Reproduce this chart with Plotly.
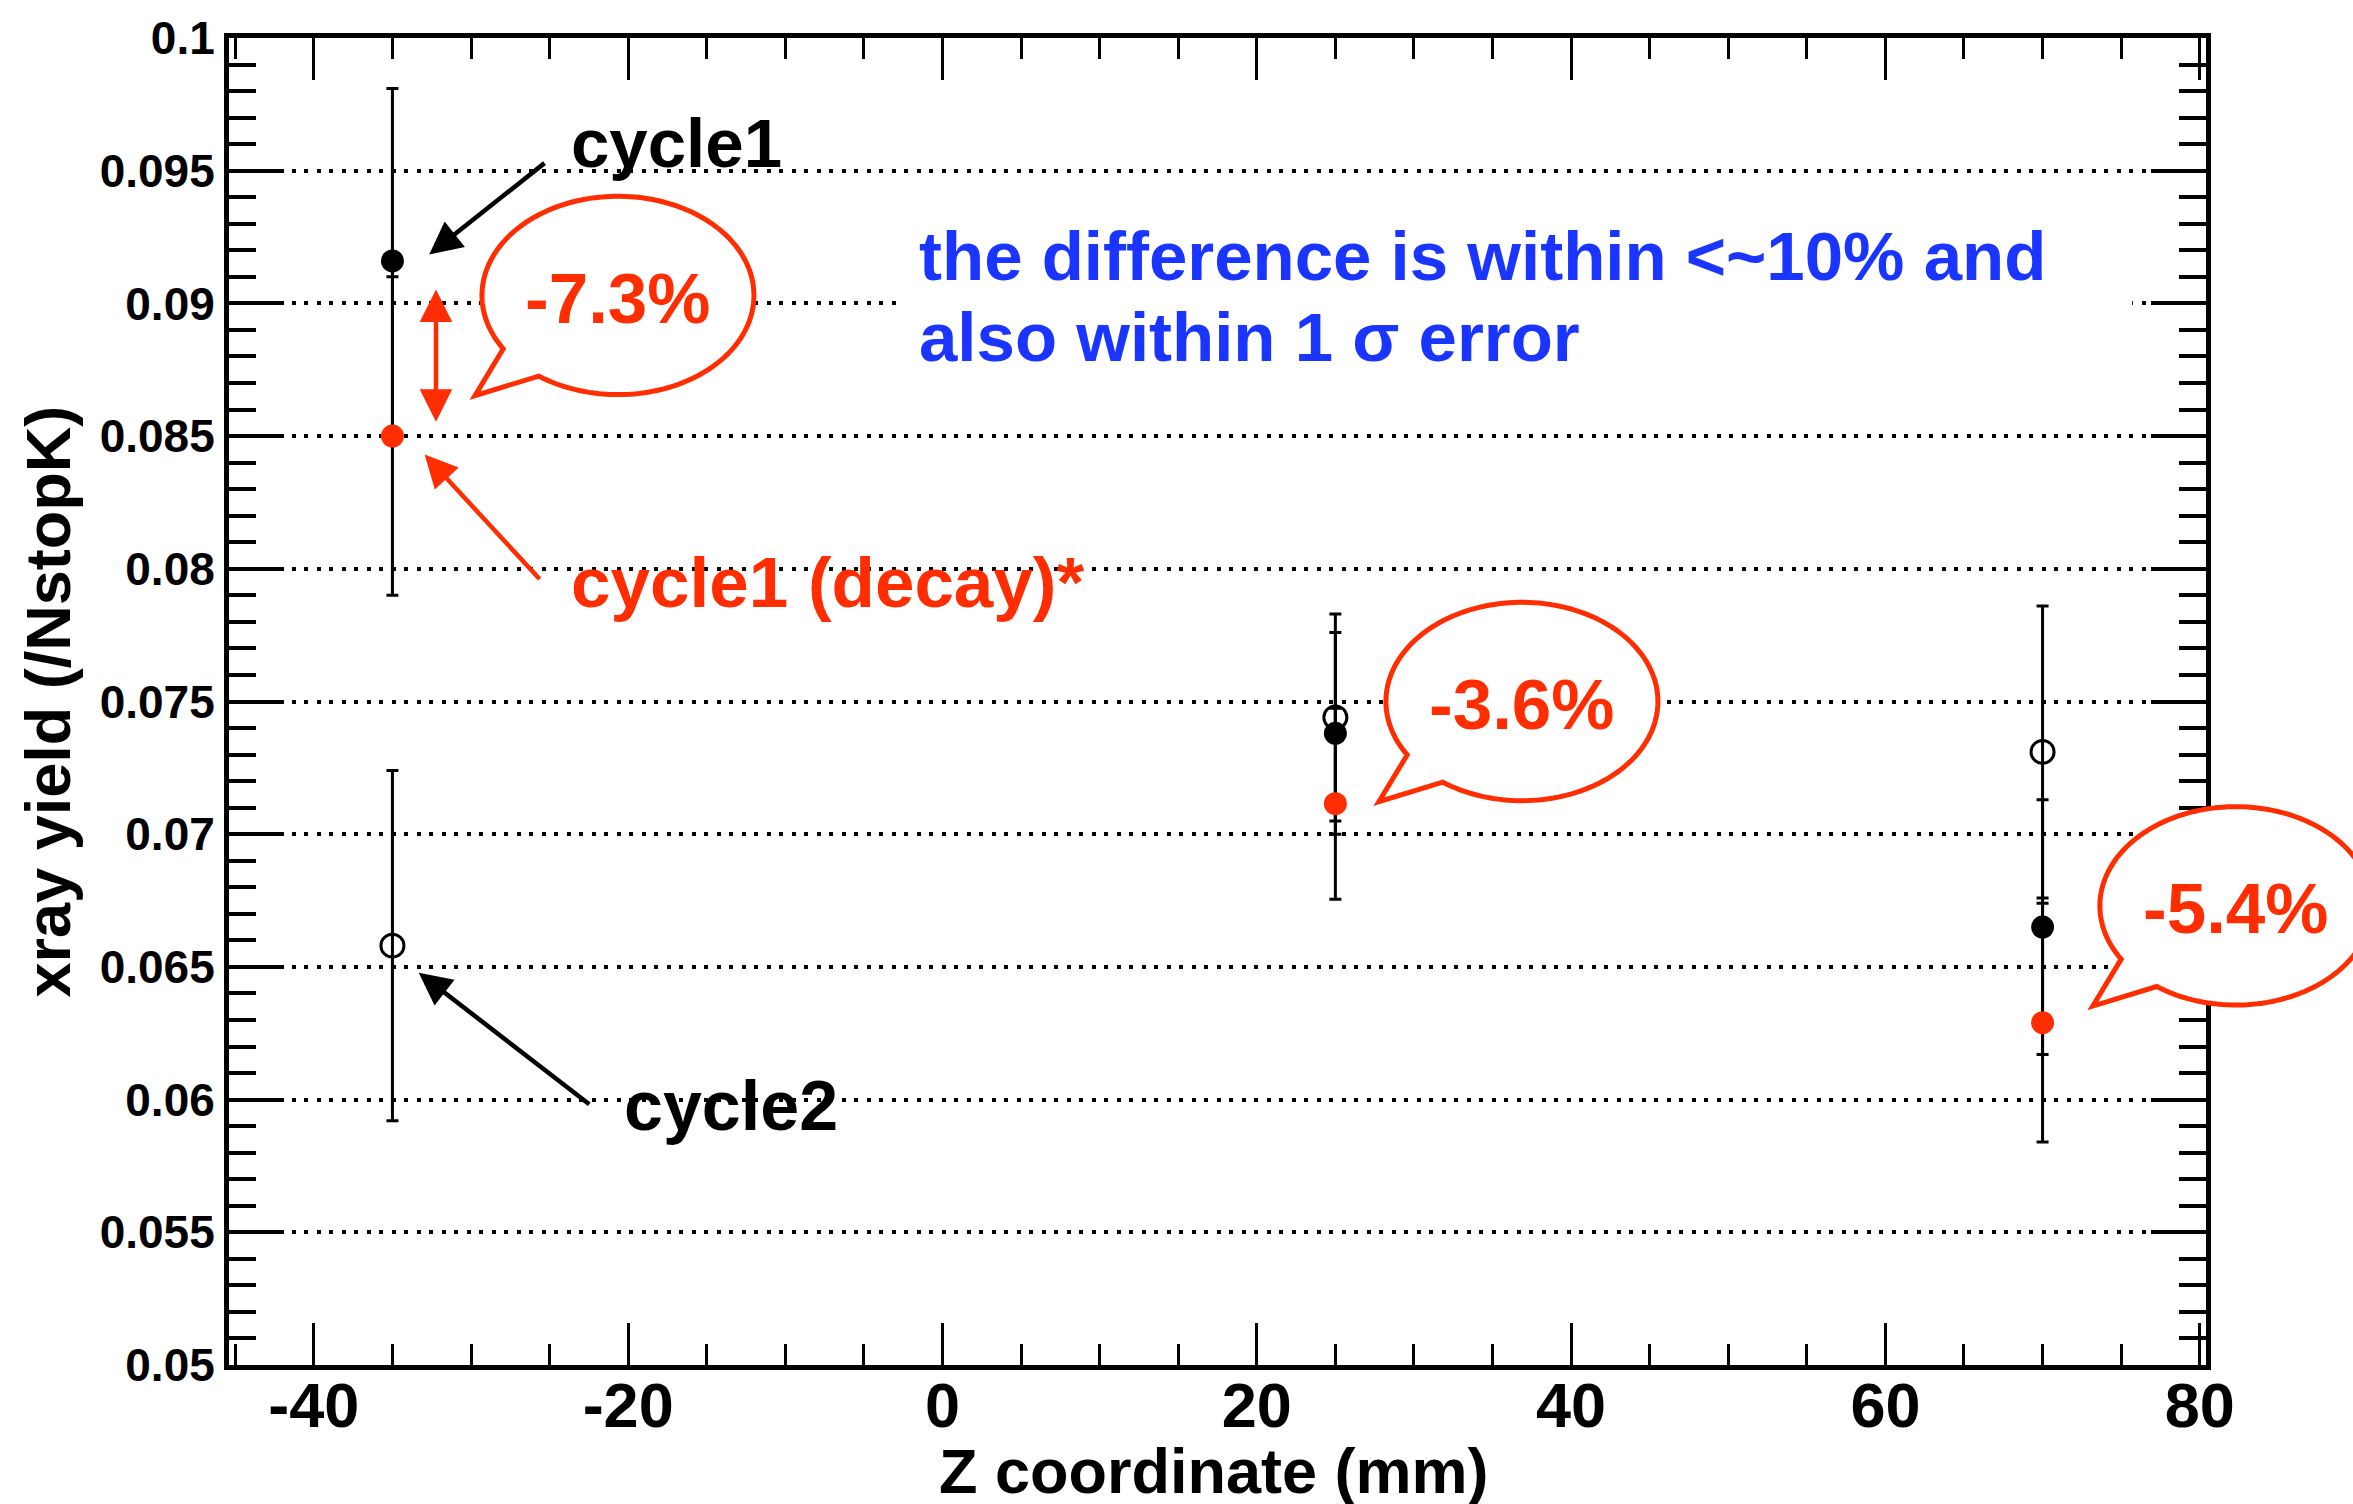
import numpy as np
import plotly.graph_objects as go

# ---------------- data ----------------
z_pos = [-35, 25, 70]
cycle1 = [0.0916, 0.0738, 0.0665]
cycle1_err = [0.0065, 0.0038, 0.0048]
cycle1_decay = [0.0850, 0.07115, 0.0629]
cycle1_decay_err = [0.0060, 0.0036, 0.0045]
cycle2 = [0.0658, 0.0744, 0.0731]
cycle2_err = [0.0066, 0.0039, 0.0055]

diff_labels = ["-7.3%", "-3.6%", "-5.4%"]
bubble_x = [-20.65, 36.87, 82.3]
bubble_y = [0.0903, 0.0750, 0.0673]

x_tickvals = [-40, -20, 0, 20, 40, 60, 80]
x_ticktext = ["-40", "-20", "0", "20", "40", "60", "80"]
y_tickvals = [0.05, 0.055, 0.06, 0.065, 0.07, 0.075, 0.08, 0.085, 0.09, 0.095, 0.1]
y_ticktext = ["0.05", "0.055", "0.06", "0.065", "0.07", "0.075", "0.08", "0.085", "0.09", "0.095", "0.1"]

# ---------------- layout constants ----------------
W, H = 2353, 1504
ML, MR, MT, MB = 229, 147, 27, 139
X_RANGE = [-45.4, 80.4]
Y_RANGE = [0.05, 0.1]
PW, PH = W - ML - MR, H - MT - MB

RED = "#ff2d00"
BLUE = "#1a35ff"
FONT = "Liberation Sans, Arial, Helvetica, sans-serif"


def xpx(x):
    return ML + (x - X_RANGE[0]) / (X_RANGE[1] - X_RANGE[0]) * PW


def ypx(y):
    return MT + (Y_RANGE[1] - y) / (Y_RANGE[1] - Y_RANGE[0]) * PH


def to_paper(px, py):
    return (px - ML) / PW, (H - MB - py) / PH


fig = go.Figure()

fig.add_trace(go.Scatter(
    x=z_pos, y=cycle2, mode="markers", name="cycle2",
    marker=dict(symbol="circle-open", size=23, color="black", line=dict(width=3, color="black")),
    error_y=dict(type="data", array=cycle2_err, color="black", thickness=3, width=6),
))
fig.add_trace(go.Scatter(
    x=z_pos, y=cycle1, mode="markers", name="cycle1",
    marker=dict(symbol="circle", size=23, color="black"),
    error_y=dict(type="data", array=cycle1_err, color="black", thickness=3, width=6),
))
fig.add_trace(go.Scatter(
    x=z_pos, y=cycle1_decay, mode="markers", name="cycle1 (decay)*",
    marker=dict(symbol="circle", size=23, color=RED),
    error_y=dict(type="data", array=cycle1_decay_err, color="black", thickness=3, width=6),
))

shapes = []
annotations = []

# white box behind blue note
shapes.append(dict(type="rect", xref="x", yref="y", x0=-2.6, x1=75.7, y0=0.0870, y1=0.0937,
                   fillcolor="white", line=dict(width=0), layer="between"))

# speech bubbles
RX, RY = 136, 100
T1, T2 = np.radians(147.5), np.radians(125.6 + 360)
TIP = (-143, 101)
for bx, by, lab in zip(bubble_x, bubble_y, diff_labels):
    cx, cy = xpx(bx), ypx(by)
    ts = np.linspace(T1, T2, 160)
    pts = [to_paper(cx + RX * np.cos(t), cy + RY * np.sin(t)) for t in ts]
    pts.append(to_paper(cx + TIP[0], cy + TIP[1]))
    path = "M " + " L ".join(f"{p[0]:.5f},{p[1]:.5f}" for p in pts) + " Z"
    shapes.append(dict(type="path", xref="paper", yref="paper", path=path,
                       fillcolor="white", line=dict(color=RED, width=5), layer="above"))
    tx, ty = to_paper(cx, cy + 3)
    annotations.append(dict(xref="paper", yref="paper", x=tx, y=ty, text=lab, showarrow=False,
                            xanchor="center", yanchor="middle",
                            font=dict(family=FONT, size=71, color=RED, weight="bold")))

# labels
annotations.append(dict(xref="x", yref="y", x=-16.93, y=0.09602, text="cycle1", showarrow=False,
                        xanchor="center", yanchor="middle",
                        font=dict(family=FONT, size=69, color="black", weight="bold")))
annotations.append(dict(xref="x", yref="y", x=-7.29, y=0.07948, text="cycle1 (decay)*", showarrow=False,
                        xanchor="center", yanchor="middle",
                        font=dict(family=FONT, size=71, color=RED, weight="bold")))
annotations.append(dict(xref="x", yref="y", x=-13.43, y=0.05975, text="cycle2", showarrow=False,
                        xanchor="center", yanchor="middle",
                        font=dict(family=FONT, size=70, color="black", weight="bold")))
annotations.append(dict(xref="x", yref="y", x=-1.6, y=0.09178, text="the difference is within <~10% and",
                        showarrow=False, xanchor="left", yanchor="middle",
                        font=dict(family=FONT, size=69, color=BLUE, weight="bold")))
annotations.append(dict(xref="x", yref="y", x=-1.6, y=0.08871, text="also within 1 σ error",
                        showarrow=False, xanchor="left", yanchor="middle",
                        font=dict(family=FONT, size=69, color=BLUE, weight="bold")))

# arrows
def arrow(x, y, ax, ay, color, side="end"):
    return dict(xref="x", yref="y", axref="x", ayref="y", x=x, y=y, ax=ax, ay=ay, text="",
                showarrow=True, arrowhead=2, startarrowhead=2, arrowside=side,
                arrowsize=1.45, startarrowsize=1.45, arrowwidth=4.5, arrowcolor=color, standoff=6,
                startstandoff=6 if side != "end" else 0)

annotations.append(arrow(-32.96, 0.0917, -25.23, 0.09533, "black"))
annotations.append(arrow(-33.21, 0.08447, -25.55, 0.07956, RED))
annotations.append(arrow(-33.63, 0.06492, -22.38, 0.05978, "black"))
annotations.append(arrow(-32.23, 0.08531, -32.23, 0.09081, RED, side="end+start"))

# axis titles
annotations.append(dict(xref="paper", yref="paper", x=0.498, y=0, yshift=-106, text="Z coordinate (mm)",
                        showarrow=False, xanchor="center", yanchor="middle",
                        font=dict(family=FONT, size=63, color="black", weight="bold")))
annotations.append(dict(xref="paper", yref="paper", x=0, y=0.5, xshift=-182, text="xray yield (/NstopK)",
                        showarrow=False, xanchor="center", yanchor="middle", textangle=-90,
                        font=dict(family=FONT, size=63, color="black", weight="bold")))

fig.update_layout(
    width=W, height=H,
    margin=dict(l=ML, r=MR, t=MT, b=MB, pad=0),
    paper_bgcolor="white", plot_bgcolor="white",
    showlegend=False,
    shapes=shapes, annotations=annotations,
    xaxis=dict(range=X_RANGE, tickvals=x_tickvals, ticktext=x_ticktext,
               ticks="inside", ticklen=42, tickwidth=3, tickcolor="black",
               minor=dict(ticks="inside", ticklen=21, tickwidth=3, tickcolor="black", dtick=5, tick0=0, showgrid=False),
               showline=True, linewidth=5, linecolor="black", mirror="ticks",
               showgrid=False, zeroline=False,
               tickfont=dict(family=FONT, size=63, color="black", weight="bold"),
               ticklabelstandoff=-19, ticklabeloverflow="allow"),
    yaxis=dict(range=Y_RANGE, tickvals=y_tickvals, ticktext=y_ticktext,
               ticks="inside", ticklen=55, tickwidth=4, tickcolor="black",
               minor=dict(ticks="inside", ticklen=27, tickwidth=4, tickcolor="black", dtick=0.001, tick0=0.05, showgrid=False),
               showline=True, linewidth=5, linecolor="black", mirror="ticks",
               showgrid=True, gridcolor="black", gridwidth=4, griddash="4px,8.5px",
               zeroline=False,
               tickfont=dict(family=FONT, size=46, color="black", weight="bold"),
               ticklabelstandoff=0, ticklabeloverflow="allow"),
)

fig.write_html("out.html")
